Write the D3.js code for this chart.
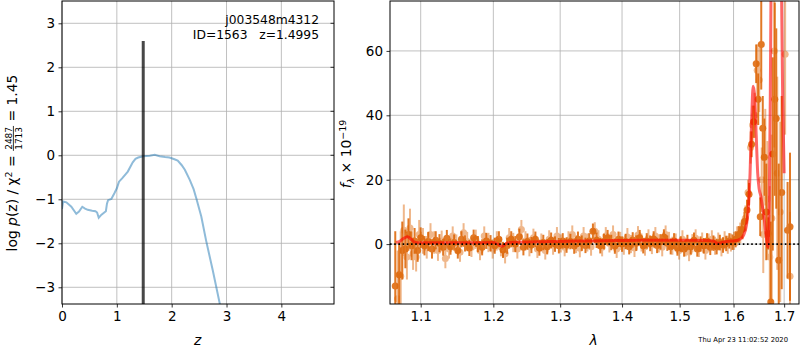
<!DOCTYPE html>
<html>
<head>
<meta charset="utf-8">
<script src="https://cdn.jsdelivr.net/npm/d3@7"></script>
<style>
  body { margin: 0; background: #fff; }
  svg { font-family: "DejaVu Sans", sans-serif; }
</style>
</head>
<body>
<svg id="fig" width="800" height="350"></svg>
<script>
// ---- redshift probability, left panel ----
const zGrid = [0, 0.02, 0.08, 0.17, 0.26, 0.31, 0.37, 0.42, 0.47, 0.55, 0.61, 0.64, 0.67, 0.72, 0.80, 0.82, 0.84, 0.90, 0.96, 1.00, 1.04, 1.10, 1.20, 1.29, 1.34, 1.39, 1.48, 1.60, 1.69, 1.78, 1.88, 1.96, 2.05, 2.11, 2.18, 2.24, 2.33, 2.40, 2.45, 2.54, 2.63, 2.75, 2.88, 2.95];
const logPz = [-1.22, -1.05, -1.07, -1.17, -1.33, -1.28, -1.17, -1.21, -1.24, -1.26, -1.27, -1.30, -1.42, -1.35, -1.27, -1.10, -1.02, -0.99, -0.85, -0.75, -0.60, -0.52, -0.37, -0.16, -0.08, -0.05, -0.02, -0.01, 0.01, -0.02, -0.04, -0.05, -0.09, -0.12, -0.22, -0.33, -0.56, -0.77, -0.98, -1.39, -1.95, -2.62, -3.39, -3.90];
const zBest = 1.4995;
const zLineTop = 2.6;
const zTicks = [0, 1, 2, 3, 4];
const pTicks = [-3, -2, -1, 0, 1, 2, 3];

// ---- spectrum, right panel (dark points) ----
const lamA = [1.067, 1.072, 1.076, 1.080, 1.084, 1.088, 1.092, 1.096, 1.100, 1.105, 1.110, 1.115, 1.120, 1.125, 1.130, 1.135, 1.140, 1.145, 1.150, 1.155, 1.160, 1.166, 1.172, 1.178, 1.184, 1.190, 1.196, 1.202, 1.208, 1.214, 1.220, 1.226, 1.232, 1.238, 1.244, 1.250, 1.256, 1.262, 1.268, 1.274, 1.280, 1.286, 1.292, 1.298, 1.304, 1.310, 1.316, 1.322, 1.328, 1.334, 1.340, 1.346, 1.352, 1.358, 1.364, 1.370, 1.376, 1.382, 1.388, 1.394, 1.400, 1.406, 1.412, 1.418, 1.424, 1.430, 1.436, 1.442, 1.448, 1.454, 1.460, 1.466, 1.472, 1.478, 1.484, 1.490, 1.496, 1.502, 1.508, 1.514, 1.520, 1.526, 1.532, 1.538, 1.544, 1.550, 1.556, 1.562, 1.568, 1.574, 1.580, 1.586, 1.592, 1.598, 1.604, 1.610, 1.616, 1.621, 1.626, 1.630, 1.635, 1.639, 1.644, 1.648, 1.652, 1.654, 1.657, 1.660, 1.664, 1.668, 1.673, 1.677, 1.681, 1.684, 1.689, 1.695, 1.707, 1.712];
const fluxA = [-13, -9.5, -2, -1.5, 3, -0.5, 1, -2, 2, -0.5, 0.8, -1.5, 1.2, 0.3, -1, 1.8, -0.8, 0.5, -2, 1.5, 0.2, -1.2, 2, 0, -1, 1, 0.3, -0.5, 1.5, -1.8, -0.5, 1.5, 0, 2.3, -1, 0.8, -0.3, 1.5, -1.2, 0.5, -0.8, 1.2, 0, -0.5, 1, -0.3, 0.8, -0.6, 1.5, 0.3, -0.4, 1, 4, 1.2, -0.5, 0.8, 2, 0.5, -0.6, 1.5, 0, 0.8, -0.8, 1.3, 0.3, 2, -0.5, 1, 0.2, 1.6, -0.4, 0.7, 2.2, 0.3, -0.8, 1, -1.2, 0, -1.5, 0.5, -0.8, 1.2, -1.5, 0, -0.5, 1, -1, 0.3, -0.8, 0.5, -0.3, 0.2, 1, 0.6, 1.5, 3, 4.5, 7, 10.6, 15.5, 31, 38, 56, 45, 8.5, 62, 36, 27, 10, 3.3, -18, 28, 45, 39, -5, 16, 4.3, 5.4];
const errA = [17, 10, 9, 6, 5, 4.5, 4, 3.5, 3.2, 3, 3, 3, 2.8, 2.8, 2.6, 2.6, 2.5, 2.5, 2.5, 2.5, 2.5, 2.5, 2.5, 2.5, 2.5, 2.5, 2.5, 2.5, 2.5, 2.5, 2.5, 2.5, 2.5, 2.5, 2.5, 2.5, 2.5, 2.4, 2.4, 2.4, 2.4, 2.4, 2.4, 2.4, 2.4, 2.4, 2.4, 2.4, 2.4, 2.4, 2.4, 2.4, 2.4, 2.4, 2.4, 2.4, 2.4, 2.4, 2.4, 2.4, 2.4, 2.4, 2.4, 2.4, 2.4, 2.4, 2.4, 2.4, 2.4, 2.4, 2.4, 2.4, 2.4, 2.4, 2.4, 2.4, 2.4, 2.4, 2.4, 2.4, 2.4, 2.4, 2.4, 2.4, 2.4, 2.4, 2.4, 2.4, 2.4, 2.4, 2.4, 2.4, 2.4, 2.4, 2.5, 2.6, 2.8, 3, 3.2, 3.5, 4, 5, 6, 8, 6, 14, 10, 12, 15, 5, 25, 30, 30, 28, 30, 30, 15, 23];

// ---- spectrum, right panel (light points) ----
const lamB = [1.070, 1.074, 1.078, 1.082, 1.086, 1.090, 1.094, 1.098, 1.103, 1.108, 1.113, 1.118, 1.123, 1.128, 1.133, 1.138, 1.143, 1.148, 1.153, 1.158, 1.163, 1.169, 1.175, 1.181, 1.187, 1.193, 1.199, 1.205, 1.211, 1.217, 1.223, 1.229, 1.235, 1.241, 1.247, 1.253, 1.259, 1.265, 1.271, 1.277, 1.283, 1.289, 1.295, 1.301, 1.307, 1.313, 1.319, 1.325, 1.331, 1.337, 1.343, 1.349, 1.355, 1.361, 1.367, 1.373, 1.379, 1.385, 1.391, 1.397, 1.403, 1.409, 1.415, 1.421, 1.427, 1.433, 1.439, 1.445, 1.451, 1.457, 1.463, 1.469, 1.475, 1.481, 1.487, 1.493, 1.499, 1.505, 1.511, 1.517, 1.523, 1.529, 1.535, 1.541, 1.547, 1.553, 1.559, 1.565, 1.571, 1.577, 1.583, 1.589, 1.595, 1.601, 1.607, 1.613, 1.618, 1.623, 1.628, 1.633, 1.637, 1.641, 1.646, 1.650, 1.655, 1.658, 1.662, 1.666, 1.671, 1.675, 1.680, 1.686, 1.692, 1.702, 1.712];
const fluxB = [-17, -10, 4.3, -4, 5, -3, -4, 3, 1, -1, 3, 0.5, -2, 1, -4.5, -1.5, 2.5, 0, -2.5, 3.5, 0.8, -1, 1.5, -2, 2.5, 0.5, -1.5, 1, -0.8, -3, 2, 0.5, -1.5, 4.5, 1, -0.8, 2, -1.5, 0.5, -2, 1.5, -0.5, 2.5, 0.2, -1, 1.2, 3, 0, -1.3, 2.5, 0.5, -0.8, 4, 1.5, -1, 2.5, 0.2, 3, -1.5, 1, -0.5, 2.2, 0, -1.2, 2.8, 0.5, -0.8, 1.8, -0.3, 2.5, 0.2, -1, 3, 1, -0.5, 0.5, -2, 1.5, -1, -2.5, 0.3, 1.8, -1.2, 0.8, -2, 0.5, 1.5, -0.5, 0.8, -1, 1.2, -0.2, 0.5, 1, 2.5, 3.5, 5, 8, 16, 30, 37, 40, 54, 51, 20, 3, 27, 14, -4, 8, 60, 22, 10, 59, -10];
const errB = [15, 14, 8, 7, 6, 5, 4.5, 4.5, 4, 3.5, 3.5, 3.5, 3.2, 3.2, 3, 3, 3, 3, 3, 3, 3, 3, 3, 3, 3, 3, 3, 3, 3, 3, 3, 3, 3, 3, 3, 3, 2.8, 2.8, 2.8, 2.8, 2.8, 2.8, 2.8, 2.8, 2.8, 2.8, 2.8, 2.8, 2.8, 2.8, 2.8, 2.8, 2.8, 2.8, 2.8, 2.8, 2.8, 2.8, 2.8, 2.8, 2.8, 2.8, 2.8, 2.8, 2.8, 2.8, 2.8, 2.8, 2.8, 2.8, 2.8, 2.8, 2.8, 2.8, 2.8, 2.8, 2.8, 2.8, 2.8, 2.8, 2.8, 2.8, 2.8, 2.8, 2.8, 2.8, 2.8, 2.8, 2.8, 2.8, 2.8, 2.8, 2.8, 2.8, 3, 3.2, 3.5, 4, 4, 5, 6, 7, 8, 10, 10, 12, 15, 18, 22, 26, 30, 30, 28, 25, 20];

// ---- best-fit model ----
const lamModel = [1.068, 1.073, 1.078, 1.083, 1.087, 1.092, 1.098, 1.12, 1.16, 1.20, 1.207, 1.213, 1.219, 1.23, 1.27, 1.31, 1.35, 1.39, 1.43, 1.47, 1.51, 1.55, 1.563, 1.570, 1.577, 1.59, 1.60, 1.608, 1.615, 1.620, 1.625, 1.629, 1.632, 1.635, 1.638, 1.641, 1.644, 1.647, 1.650, 1.653, 1.656, 1.659, 1.662, 1.665, 1.667, 1.670, 1.672, 1.674, 1.678, 1.684, 1.690, 1.694, 1.697, 1.700];
const fluxModel = [0.5, 0.9, 1.8, 2.3, 1.6, 0.6, 0.4, 0.4, 0.4, 0.5, 0.0, -0.7, 0.3, 0.6, 0.7, 0.9, 1.0, 1.1, 1.2, 1.2, 1.2, 1.1, 0.9, 0.2, 0.5, 0.9, 1.0, 1.2, 1.8, 3.0, 6.0, 12, 22, 38, 49, 46, 34, 22, 17, 15, 12, 9, 5, 1, -1, 14, 45, 90, 140, 160, 150, 90, 45, 22];
const lamTicks = [1.1, 1.2, 1.3, 1.4, 1.5, 1.6, 1.7];
const fTicks = [0, 20, 40, 60];

const svg = d3.select("#fig");
const tickFont = "13.5px";
const specColor = "#dd6200";

// panel boxes, in pixels
const L = { x0: 62, x1: 334, y0: 1, y1: 304 };
const R = { x0: 390, x1: 799, y0: 1, y1: 304 };

const xz = d3.scaleLinear().domain([0, 4.96]).range([L.x0, L.x1]);
const yp = d3.scaleLinear().domain([-3.38, 3.507]).range([L.y1, L.y0]);
const xl = d3.scaleLog().domain([1.0603, 1.7305]).range([R.x0, R.x1]);
const yf = d3.scaleLinear().domain([-18.6, 75.5]).range([R.y1, R.y0]);

// clip paths so the curves stay inside the frames
const defs = svg.append("defs");
defs.append("clipPath").attr("id", "clipL").append("rect")
  .attr("x", L.x0).attr("y", L.y0).attr("width", L.x1 - L.x0).attr("height", L.y1 - L.y0);
defs.append("clipPath").attr("id", "clipR").append("rect")
  .attr("x", R.x0).attr("y", R.y0).attr("width", R.x1 - R.x0).attr("height", R.y1 - R.y0);

// gridlines
function grid(box, xs, xv, ys, yv) {
  const g = svg.append("g").attr("stroke", "#b0b0b0").attr("stroke-width", 0.8);
  g.selectAll(".gx").data(xv).enter().append("line")
    .attr("x1", d => xs(d)).attr("x2", d => xs(d)).attr("y1", box.y0).attr("y2", box.y1);
  g.selectAll(".gy").data(yv).enter().append("line")
    .attr("x1", box.x0).attr("x2", box.x1).attr("y1", d => ys(d)).attr("y2", d => ys(d));
}
grid(L, xz, zTicks, yp, pTicks);
grid(R, xl, lamTicks, yf, fTicks);

// ---- left panel marks ----
const gl = svg.append("g").attr("clip-path", "url(#clipL)");
gl.append("path")
  .datum(zGrid.map((z, i) => [z, logPz[i]]))
  .attr("fill", "none")
  .attr("stroke", "#1f77b4")
  .attr("stroke-opacity", 0.5)
  .attr("stroke-width", 2)
  .attr("d", d3.line().x(d => xz(d[0])).y(d => yp(d[1])));
gl.append("line")
  .attr("x1", xz(zBest) - 1).attr("x2", xz(zBest) - 1)
  .attr("y1", yp(-3.38)).attr("y2", yp(zLineTop))
  .attr("stroke", "#000").attr("stroke-opacity", 0.72).attr("stroke-width", 3);

// ---- right panel marks ----
const gr = svg.append("g").attr("clip-path", "url(#clipR)");
function spectrum(lam, flux, err, alpha) {
  const pts = lam.map((l, i) => ({ l: l, f: flux[i], e: err[i] }));
  const g = gr.append("g").attr("opacity", alpha);
  g.selectAll("line").data(pts).enter().append("line")
    .attr("x1", d => xl(d.l)).attr("x2", d => xl(d.l))
    .attr("y1", d => yf(d.f - d.e)).attr("y2", d => yf(d.f + d.e))
    .attr("stroke", specColor).attr("stroke-width", 2);
  g.selectAll("circle").data(pts).enter().append("circle")
    .attr("cx", d => xl(d.l)).attr("cy", d => yf(d.f))
    .attr("r", 3.5).attr("fill", specColor);
}
spectrum(lamB, fluxB, errB, 0.45);
spectrum(lamA, fluxA, errA, 0.85);

gr.append("path")
  .datum(lamModel.map((l, i) => [l, fluxModel[i]]))
  .attr("fill", "none")
  .attr("stroke", "#ff0000")
  .attr("stroke-opacity", 0.6)
  .attr("stroke-width", 3)
  .attr("d", d3.line().curve(d3.curveMonotoneX).x(d => xl(d[0])).y(d => yf(d[1])));

gr.append("line")
  .attr("x1", R.x0).attr("x2", R.x1).attr("y1", yf(0)).attr("y2", yf(0))
  .attr("stroke", "#000").attr("stroke-width", 1.6).attr("stroke-dasharray", "1.6,2.6");

// ---- axes ----
function styleAxis(g) {
  g.select(".domain").remove();
  g.selectAll(".tick line").attr("stroke", "#000").attr("stroke-width", 0.8);
  g.selectAll(".tick text").attr("fill", "#000").style("font-size", tickFont)
    .style("font-family", "DejaVu Sans, sans-serif");
}
svg.append("g").attr("transform", `translate(0,${L.y1})`)
  .call(d3.axisBottom(xz).tickValues(zTicks).tickFormat(d3.format("d")).tickSize(3.5).tickPadding(3.5))
  .call(styleAxis);
svg.append("g").attr("transform", `translate(${L.x0},0)`)
  .call(d3.axisLeft(yp).tickValues(pTicks).tickFormat(d3.format("d")).tickSize(3.5).tickPadding(3.5))
  .call(styleAxis);
// inward ticks on the right spine of the left panel
svg.append("g").selectAll("line").data(pTicks).enter().append("line")
  .attr("x1", L.x1 - 3.5).attr("x2", L.x1).attr("y1", d => yp(d)).attr("y2", d => yp(d))
  .attr("stroke", "#000").attr("stroke-width", 0.8);

svg.append("g").attr("transform", `translate(0,${R.y1})`)
  .call(d3.axisBottom(xl).tickValues(lamTicks).tickFormat(d3.format(".1f")).tickSize(3.5).tickPadding(3.5))
  .call(styleAxis);
svg.append("g").attr("transform", `translate(${R.x0},0)`)
  .call(d3.axisLeft(yf).tickValues(fTicks).tickFormat(d3.format("d")).tickSize(3.5).tickPadding(3.5))
  .call(styleAxis);

// frames
[L, R].forEach(b => {
  svg.append("rect").attr("x", b.x0).attr("y", b.y0)
    .attr("width", b.x1 - b.x0).attr("height", b.y1 - b.y0)
    .attr("fill", "none").attr("stroke", "#000").attr("stroke-width", 1);
});

// ---- text ----
svg.append("text").attr("x", 319).attr("y", 24).attr("text-anchor", "end")
  .style("font-size", "12.3px").text("j003548m4312");
svg.append("text").attr("x", 319).attr("y", 38.5).attr("text-anchor", "end")
  .style("font-size", "12.3px").style("white-space", "pre").text("ID=1563   z=1.4995");

svg.append("text").attr("x", 197.7).attr("y", 345).attr("text-anchor", "middle")
  .style("font-size", "13.9px").style("font-style", "italic").text("z");
svg.append("text").attr("x", 593.5).attr("y", 345).attr("text-anchor", "middle")
  .style("font-size", "13.9px").style("font-style", "italic").text("λ");

svg.append("text").attr("x", 788).attr("y", 342).attr("text-anchor", "end")
  .style("font-size", "6.8px").text("Thu Apr 23 11:02:52 2020");

// left y label with a stacked fraction
const yl = svg.append("g");
const t1 = yl.append("text").style("font-size", "13.9px").attr("x", 0).attr("y", 0);
t1.append("tspan").text("log ");
t1.append("tspan").style("font-style", "italic").text("p");
t1.append("tspan").text("(z) / χ");
t1.append("tspan").attr("dy", -5.5).style("font-size", "9.5px").text("2");
t1.append("tspan").attr("dy", 5.5).style("white-space", "pre").text(" = ");
let w1 = t1.node().getComputedTextLength();
const num = yl.append("text").style("font-size", "9px").attr("text-anchor", "middle").text("2487");
const fw = num.node().getComputedTextLength() + 2;
num.attr("x", w1 + fw / 2).attr("y", -5.3);
yl.append("text").style("font-size", "9px").attr("text-anchor", "middle")
  .attr("x", w1 + fw / 2).attr("y", 4.6).text("1713");
yl.append("line").attr("x1", w1).attr("x2", w1 + fw).attr("y1", -3.6).attr("y2", -3.6)
  .attr("stroke", "#000").attr("stroke-width", 0.8);
const t2 = yl.append("text").style("font-size", "13.9px").style("white-space", "pre")
  .attr("x", w1 + fw).attr("y", 0).text(" = 1.45");
const total = w1 + fw + t2.node().getComputedTextLength();
yl.attr("transform", `translate(17,${163 + total / 2}) rotate(-90)`);

// right y label
const yr = svg.append("text").attr("text-anchor", "middle").style("font-size", "13.9px")
  .attr("transform", "translate(351,154) rotate(-90)");
yr.append("tspan").style("font-style", "italic").text("f");
yr.append("tspan").attr("dy", 3).style("font-size", "9.5px").style("font-style", "italic").text("λ");
yr.append("tspan").attr("dy", -3).style("white-space", "pre").text(" × 10");
yr.append("tspan").attr("dy", -5.5).style("font-size", "9.5px").text("−19");
</script>
</body>
</html>
